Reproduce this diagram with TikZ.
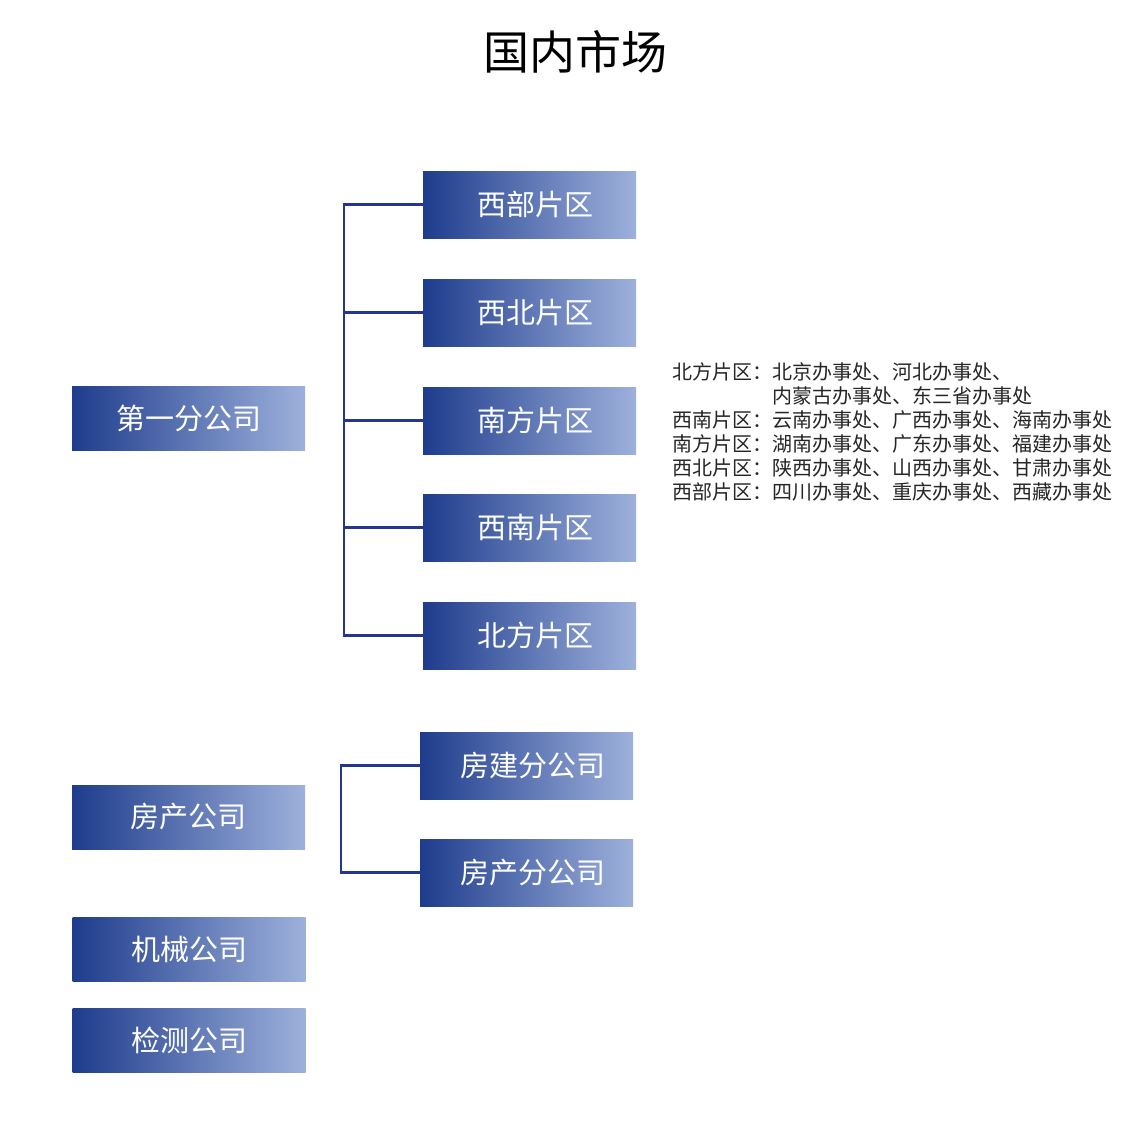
\documentclass[tikz,border=0pt]{standalone}
\usepackage{fontspec}
\newfontfamily\cjk{Noto Sans CJK SC}
\usetikzlibrary{positioning, calc}
\definecolor{deepblue}{RGB}{30,60,140}
\definecolor{paleblue}{RGB}{158,177,220}
\definecolor{linkblue}{RGB}{35,55,140}

\tikzset{
	unitbox/.style={shade, shading=axis, left color=deepblue, right color=paleblue, draw=none,
		text=white, font=\cjk\fontsize{29}{32}\selectfont, inner sep=0pt},
	leftbox/.style={unitbox, minimum width=233pt, minimum height=64pt},
	rightbox/.style={unitbox, minimum width=213pt, minimum height=67pt,
		execute at begin node={\hspace*{12pt}}},
	linkline/.style={linkblue, line width=2.5pt}
}

\begin{document}
\begin{tikzpicture}[x=1pt, y=-1pt]
	\useasboundingbox (0,0) rectangle (1130,1132);
	\node [font=\cjk\fontsize{46}{50}\selectfont] (title) at (575,52) {国内市场};

	% left column
	\node [leftbox] (diyi) at (188.5,418) {第一分公司};
	\node [leftbox] (fangchan) at (188.5,817) {房产公司};
	\node [leftbox] (jixie) at (189,949) {机械公司};
	\node [leftbox] (jiance) at (189,1040) {检测公司};

	% regions
	\node [rightbox] (xibu) at (529.5,204.5) {西部片区};
	\node [rightbox] (xibei) at (529.5,312.5) {西北片区};
	\node [rightbox] (nanfang) at (529.5,420.5) {南方片区};
	\node [rightbox] (xinan) at (529.5,527.5) {西南片区};
	\node [rightbox] (beifang) at (529.5,635.5) {北方片区};

	% branches
	\node [rightbox] (fangjian) at (526.5,765.5) {房建分公司};
	\node [rightbox] (fangfen) at (526.5,872.5) {房产分公司};

	\coordinate (spine) at (344,0);
	\coordinate (spinetwo) at (341,0);
	\draw [linkline] (xibu.west) -| (spine |- beifang.west) -- (beifang.west);
	\draw [linkline] (xibei.west) -- (spine |- xibei.west);
	\draw [linkline] (nanfang.west) -- (spine |- nanfang.west);
	\draw [linkline] (xinan.west) -- (spine |- xinan.west);
	\draw [linkline] (fangjian.west) -| (spinetwo |- fangfen.west) -- (fangfen.west);

	% offices
	\node [anchor=north west, inner sep=0pt, text=black!85, font=\cjk\fontsize{20}{24}\selectfont] (offices) at (672,362) {%
		\begin{tabular}{@{}l@{}l@{}}
			北方片区： & 北京办事处、河北办事处、\\
			 & 内蒙古办事处、东三省办事处\\
			西南片区： & 云南办事处、广西办事处、海南办事处\\
			南方片区： & 湖南办事处、广东办事处、福建办事处\\
			西北片区： & 陕西办事处、山西办事处、甘肃办事处\\
			西部片区： & 四川办事处、重庆办事处、西藏办事处
		\end{tabular}};
\end{tikzpicture}
\end{document}
